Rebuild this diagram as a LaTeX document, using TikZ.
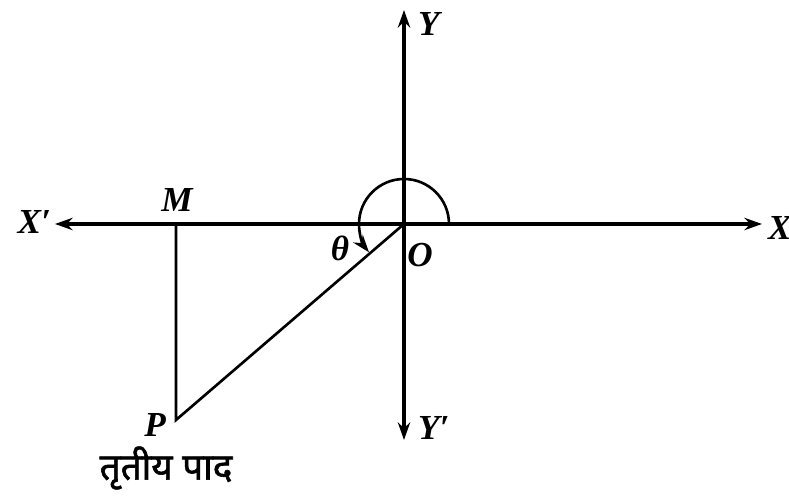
\documentclass[tikz,border=0pt]{standalone}
\usepackage{fontspec}
\setmainfont{Liberation Serif}
\newfontfamily\hindifont[Script=Devanagari,FakeBold=1.6]{Noto Sans}
\usetikzlibrary{arrows.meta,calc}

\tikzset{
  axis/.style={line width=1.8pt, {Stealth[length=10pt,width=7pt]}-{Stealth[length=10pt,width=7pt]}},
  side/.style={line width=1.5pt},
  lbl/.style={font=\fontsize{20}{22}\selectfont\bfseries\itshape, inner sep=1pt}
}

\begin{document}
\begin{tikzpicture}[x=0.02cm, y=0.02cm]
        \useasboundingbox (0,0) rectangle (789,496);

        % Points
        \coordinate (O) at (404,272);
        \coordinate (M) at (176,272);
        \coordinate (P) at (176,76);
        \coordinate (Xl) at (55,272);
        \coordinate (Xr) at (762,272);
        \coordinate (Yt) at (404,486);
        \coordinate (Yb) at (404,56);

        % Axes
        \draw[axis] (Xl) -- (Xr);
        \draw[axis] (Yb) -- (Yt);
        \node[lbl, left] (labXl) at ($(Xl)+(-2,2)$) {X′};
        \node[lbl, right] (labXr) at ($(Xr)+(4,-4)$) {X};
        \node[lbl, right] (labYt) at ($(Yt)+(12,-14)$) {Y};
        \node[lbl, right] (labYb) at ($(Yb)+(12,12)$) {Y′};

        % Triangle
        \draw[side] (M) -- (P) -- (O);
        \node[lbl] (labM) at ($(M)+(1,24)$) {M};
        \node[lbl] (labO) at ($(O)+(16,-31)$) {O};
        \node[lbl] (labP) at ($(P)+(-21,-5)$) {P};

        % Angle
        \draw[side, -{Stealth[length=10pt,width=7pt]}] ($(O)+(45,0)$) arc[start angle=0, end angle=219, radius=45];
        \node[lbl] (labT) at ($(O)+(-64,-24)$) {θ};

        % Quadrant name
        \node[font=\fontsize{21}{24}\selectfont\hindifont] (quad) at ($(P)+(-10,-48)$) {तृतीय पाद};
\end{tikzpicture}
\end{document}
